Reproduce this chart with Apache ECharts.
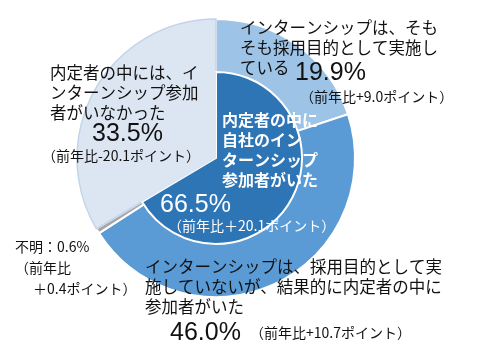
<!DOCTYPE html>
<html><head><meta charset="utf-8">
<script src="https://cdn.jsdelivr.net/npm/echarts@6/dist/echarts.min.js"></script>
<style>html,body{margin:0;padding:0;background:#fff}#c{width:486px;height:357px}</style>
</head><body><div id="c"></div>
<script>
// Inner pie: participants present / absent
const innerNames = ['内定者の中に自社のインターンシップ参加者がいた', '内定者の中には、インターンシップ参加者がいなかった'];
const innerValues = [66.5, 33.5];
// Outer ring breakdown
const outerNames = ['インターンシップは、そもそも採用目的として実施している', 'インターンシップは、採用目的として実施していないが、結果的に内定者の中に参加者がいた', '不明', '内定者の中には、インターンシップ参加者がいなかった'];
const outerValues = [19.9, 46.0, 0.6, 33.5];
const outerDiffs = ['+9.0', '+10.7', '+0.4', '-20.1'];
const innerDiffs = ['＋20.1', '-20.1'];

const JP = '"Noto Sans CJK JP", "Noto Sans", sans-serif';
const NUM = '"Liberation Sans", Arial, sans-serif';
const C = { dark: '#2E75B6', mid: '#5B9BD5', lite: '#9DC3E6', pale: '#DCE6F2', gray: '#A6A6A6' };

const chart = echarts.init(document.getElementById('c'));
function t(x, y, text, size, opts) {
  return Object.assign({ type: 'text', x: x, y: y, z: 100, zlevel: 0, silent: true,
    style: Object.assign({ text: text, fontSize: size, fontFamily: JP, fill: '#111', verticalAlign: 'middle', align: 'left' }, opts || {}) });
}
const pct = v => v.toFixed(1) + '%';
const graphics = [
  // top right
  t(240, 28, 'インターンシップは、そも', 16.5),
  t(240, 48, 'そも採用目的として実施し', 16.5),
  t(240, 68, 'ている', 16.5),
  t(295, 73, pct(outerValues[0]), 25, { fontFamily: NUM }),
  t(300, 97, '（前年比' + outerDiffs[0] + 'ポイント）', 14),
  // left
  t(50, 73, '内定者の中には、イ', 16.5),
  t(50, 93, 'ンターンシップ参加', 16.5),
  t(50, 113, '者がいなかった', 16.5),
  t(92, 134, pct(outerValues[3]), 25, { fontFamily: NUM }),
  t(42, 156, '（前年比' + outerDiffs[3] + 'ポイント）', 14),
  // inner
  t(222, 120, '内定者の中に', 16, { fill: '#fff', fontWeight: 'bold' }),
  t(222, 140, '自社のイン', 16, { fill: '#fff', fontWeight: 'bold' }),
  t(222, 160, 'ターンシップ', 16, { fill: '#fff', fontWeight: 'bold' }),
  t(222, 180, '参加者がいた', 16, { fill: '#fff', fontWeight: 'bold' }),
  t(160, 205, pct(innerValues[0]), 25, { fontFamily: NUM, fill: '#fff' }),
  t(168, 226, '（前年比' + innerDiffs[0] + 'ポイント）', 14, { fill: '#fff' }),
  // bottom left
  t(15, 247, '不明：' + pct(outerValues[2]), 14),
  t(15, 268, '（前年比', 14),
  t(33, 289, outerDiffs[2].replace('+', '＋') + 'ポイント）', 14),
  // bottom
  t(145, 267, 'インターンシップは、採用目的として実', 16.5),
  t(145, 287, '施していないが、結果的に内定者の中に', 16.5),
  t(145, 307, '参加者がいた', 16.5),
  t(170, 333, pct(outerValues[1]), 25, { fontFamily: NUM }),
  t(250, 333, '（前年比' + outerDiffs[1] + 'ポイント）', 14)
];

chart.setOption({
  animation: false,
  series: [
    {
      type: 'pie', center: [216, 158], radius: [83, 139], startAngle: 90, clockwise: true, z: 1,
      label: { show: false }, labelLine: { show: false }, silent: true,
      data: outerNames.map((n, i) => ({ name: n, value: outerValues[i],
        itemStyle: { color: [C.lite, C.mid, C.gray, C.pale][i],
          borderColor: i === 3 ? '#C3D4EA' : '#fff', borderWidth: i === 3 ? 1.5 : 2 } }))
    },
    {
      type: 'pie', center: [216, 158], radius: [0, 86], startAngle: 90, clockwise: true, z: 1,
      label: { show: false }, labelLine: { show: false }, silent: true,
      data: innerNames.map((n, i) => ({ name: n, value: innerValues[i],
        itemStyle: { color: [C.dark, C.pale][i], borderColor: i === 0 ? '#fff' : C.pale, borderWidth: i === 0 ? 2 : 0 } }))
    }
  ],
  graphic: { elements: graphics }
});
</script></body></html>
